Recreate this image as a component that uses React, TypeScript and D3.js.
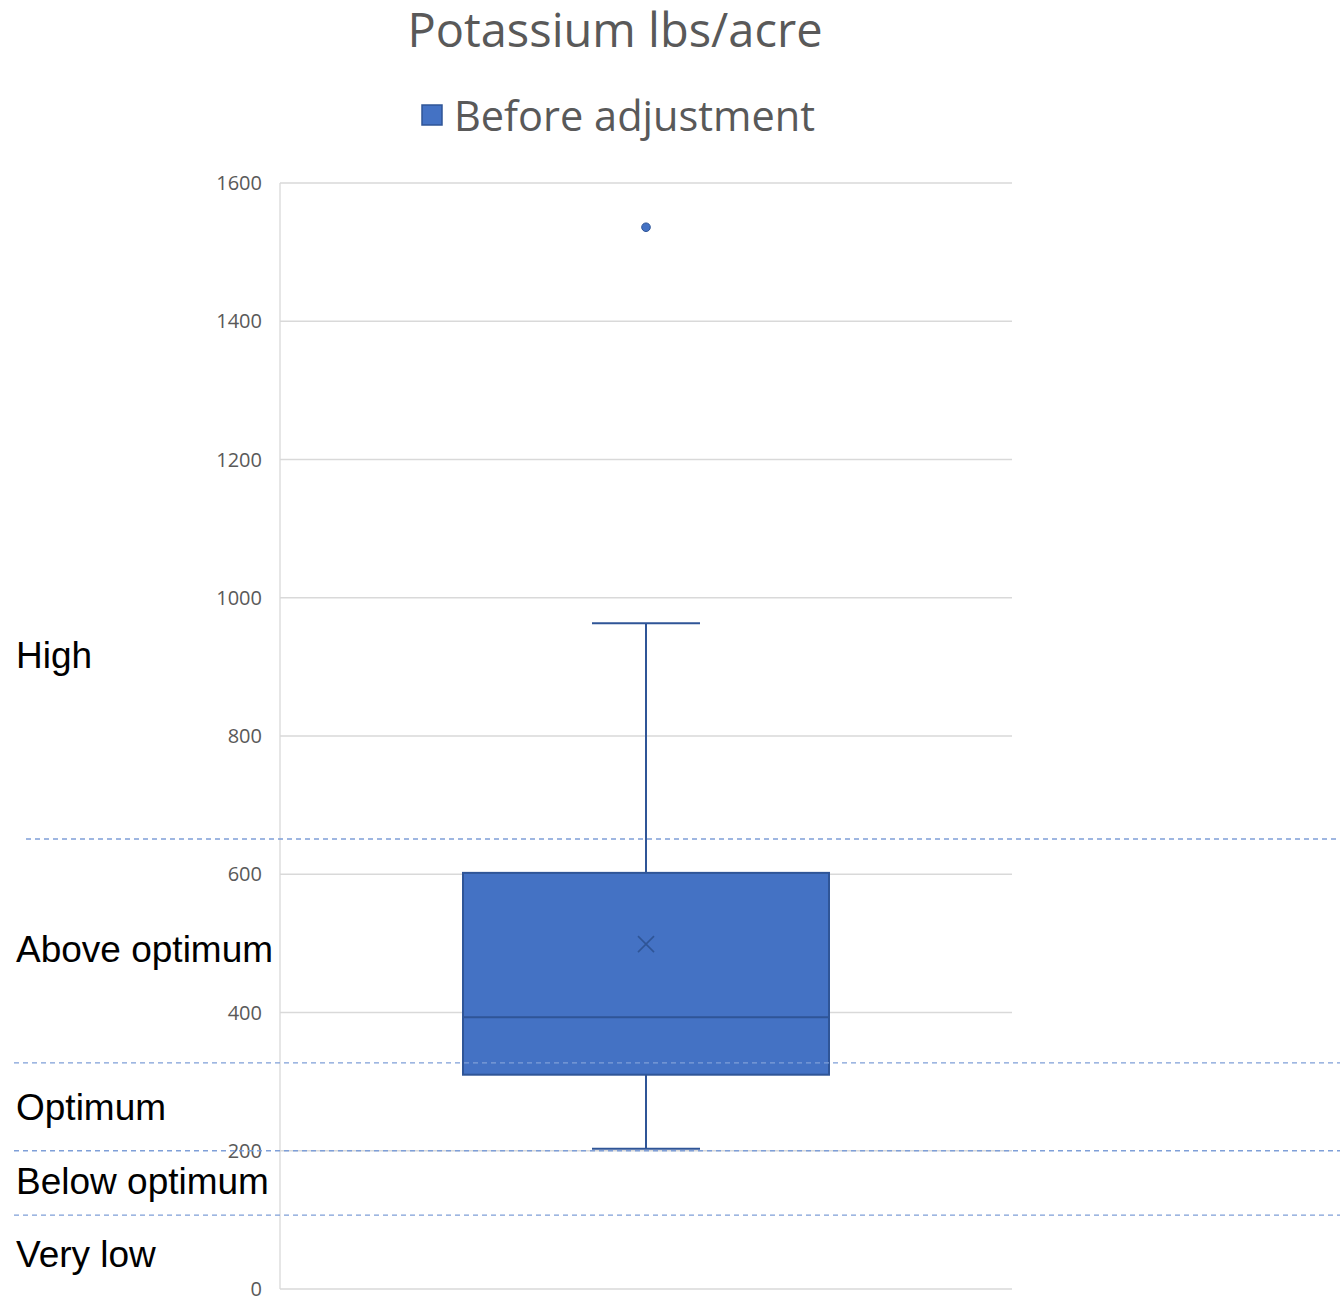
import React from "react";
import * as d3 from "d3";

// Box-plot summary for potassium readings (lbs/acre)
const seriesName = "Before adjustment";
const category = ["Potassium"];
const whiskerLow = [203];
const q1 = [310];
const median = [393];
const q3 = [602];
const whiskerHigh = [963];
const mean = [499];
const outliers = [1536];

const yTicks = [0, 200, 400, 600, 800, 1000, 1200, 1400, 1600];

// Soil-test rating thresholds and band labels
const thresholds = [651, 327, 200, 107];
const bandLabels = ["High", "Above optimum", "Optimum", "Below optimum", "Very low"];
const bandLabelValues = [899, 473, 245, 137, 32];

const W = 1340;
const H = 1300;
const plotLeft = 280;
const plotRight = 1012;

export default function App() {
  const y = d3.scaleLinear().domain([0, 1600]).range([1289, 183]);
  const x = d3.scaleBand().domain(category).range([plotLeft, plotRight]).paddingInner(0).paddingOuter(0.5);
  const blue = "#4472c4";
  const dark = "#2f5597";
  const grid = "#d9d9d9";
  const grey = "#595959";

  const cx = x(category[0])! + x.bandwidth() / 2;
  const bw = x.bandwidth();
  const capHalf = 54;
  const m = 8;

  return (
    <svg
      width={W}
      height={H}
      style={{ position: "absolute", left: 0, top: 0, background: "#fff" }}
    >
      {/* title */}
      <text x={615} y={47} textAnchor="middle" fontFamily="'Open Sans', sans-serif" fontSize={47} fill={grey}>
        Potassium lbs/acre
      </text>

      {/* legend */}
      <rect x={422} y={105} width={20} height={20} fill={blue} stroke={dark} strokeWidth={1.5} />
      <text x={454} y={131} fontFamily="'Open Sans', sans-serif" fontSize={41.5} fill={grey}>
        {seriesName}
      </text>

      {/* gridlines */}
      {yTicks.map((t) => (
        <line key={"g" + t} x1={plotLeft} x2={plotRight} y1={y(t)} y2={y(t)} stroke={grid} strokeWidth={1.3} />
      ))}
      <line x1={plotLeft} x2={plotLeft} y1={y(1600)} y2={y(0)} stroke={grid} strokeWidth={1.3} />

      {/* tick labels */}
      {yTicks.map((t) => (
        <text
          key={"t" + t}
          x={262}
          y={y(t)}
          dy="0.36em"
          textAnchor="end"
          fontFamily="'Open Sans', sans-serif"
          fontSize={20}
          fill={grey}
        >
          {t}
        </text>
      ))}

      {/* whiskers */}
      <line x1={cx} x2={cx} y1={y(whiskerHigh[0])} y2={y(q3[0])} stroke={dark} strokeWidth={2} />
      <line x1={cx} x2={cx} y1={y(q1[0])} y2={y(whiskerLow[0])} stroke={dark} strokeWidth={2} />
      <line x1={cx - capHalf} x2={cx + capHalf} y1={y(whiskerHigh[0])} y2={y(whiskerHigh[0])} stroke={dark} strokeWidth={2} />
      <line x1={cx - capHalf} x2={cx + capHalf} y1={y(whiskerLow[0])} y2={y(whiskerLow[0])} stroke={dark} strokeWidth={2} />

      {/* box */}
      <rect
        x={cx - bw / 2}
        y={y(q3[0])}
        width={bw}
        height={y(q1[0]) - y(q3[0])}
        fill={blue}
        stroke={dark}
        strokeWidth={2}
      />
      <line x1={cx - bw / 2} x2={cx + bw / 2} y1={y(median[0])} y2={y(median[0])} stroke={dark} strokeWidth={2} />

      {/* mean marker */}
      <g stroke={dark} strokeWidth={1.6}>
        <line x1={cx - m} x2={cx + m} y1={y(mean[0]) - m} y2={y(mean[0]) + m} />
        <line x1={cx - m} x2={cx + m} y1={y(mean[0]) + m} y2={y(mean[0]) - m} />
      </g>

      {/* outliers */}
      {outliers.map((v, i) => (
        <circle key={"o" + i} cx={cx} cy={y(v)} r={4.3} fill={blue} stroke={dark} strokeWidth={1} />
      ))}

      {/* rating thresholds */}
      {thresholds.map((t, i) => (
        <line
          key={"th" + i}
          x1={i === 0 ? 26 : 14}
          x2={W}
          y1={y(t)}
          y2={y(t)}
          stroke="#7f9fd8"
          strokeWidth={1.3}
          strokeDasharray="5 4"
        />
      ))}

      {/* band labels */}
      {bandLabels.map((lbl, i) => (
        <text
          key={"b" + i}
          x={16}
          y={y(bandLabelValues[i])}
          fontFamily="'Liberation Sans', Arial, sans-serif"
          fontSize={37}
          fill="#000"
        >
          {lbl}
        </text>
      ))}
    </svg>
  );
}
